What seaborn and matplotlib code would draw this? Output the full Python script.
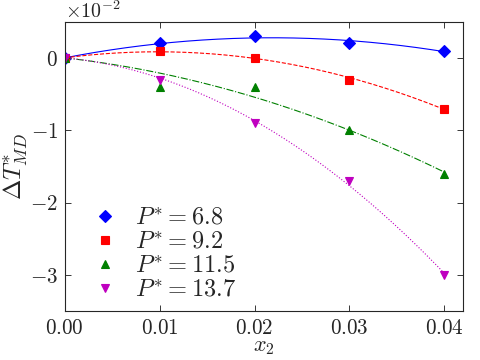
import numpy as np
import pandas as pd
import matplotlib
matplotlib.use('Agg')
import matplotlib.pyplot as plt
import seaborn as sns

# data (y in units of 1e-2)
x2 = [0.00, 0.01, 0.02, 0.03, 0.04]
pressures = ['6.8', '9.2', '11.5', '13.7']
dT_68 = [0.0, 0.2, 0.3, 0.2, 0.1]
dT_92 = [0.0, 0.1, 0.0, -0.3, -0.7]
dT_115 = [0.0, -0.4, -0.4, -1.0, -1.6]
dT_137 = [0.0, -0.3, -0.9, -1.7, -3.0]

series = [dT_68, dT_92, dT_115, dT_137]
colors = ['#0000ff', '#ff0000', '#008000', '#bf00bf']
markers = ['D', 's', '^', 'v']
styles = ['-', '--', '-.', ':']

sns.set_style('ticks')
plt.rcParams['font.family'] = ['cmr10', 'DejaVu Serif']
plt.rcParams['mathtext.fontset'] = 'cm'
plt.rcParams['axes.formatter.use_mathtext'] = True
plt.rcParams['axes.unicode_minus'] = False
plt.rcParams['xtick.direction'] = 'in'
plt.rcParams['ytick.direction'] = 'in'
plt.rcParams['xtick.top'] = True
plt.rcParams['ytick.right'] = True

fig, ax = plt.subplots(figsize=(6, 4.5), dpi=80)

xa = np.array(x2)
xfine = np.linspace(0, 0.04, 200)
for p, y, c, m, ls in zip(pressures, series, colors, markers, styles):
    yv = np.array(y) * 1e-2
    # quadratic fit through the origin
    A = np.column_stack([xa, xa ** 2])
    coef = np.linalg.lstsq(A, yv, rcond=None)[0]
    fit = pd.DataFrame({'x': xfine, 'y': coef[0] * xfine + coef[1] * xfine ** 2})
    sns.lineplot(data=fit, x='x', y='y', color=c, linestyle=ls, lw=1.0, ax=ax)
    ax.plot(x2, yv, linestyle='none', marker=m, color=c, markersize=8,
            markeredgecolor=c, label=r'$P^{*}=' + p + '$')

ax.set_xlim(0, 0.042)
ax.set_ylim(-0.035, 0.005)
ax.set_xticks(x2)
ax.set_yticks([-0.03, -0.02, -0.01, 0.0])
ax.ticklabel_format(axis='y', style='sci', scilimits=(0, 0), useMathText=True)
ax.yaxis.get_offset_text().set_fontsize(18)
ax.tick_params(labelsize=19, length=5, width=0.8, pad=6)
for s in ax.spines.values():
    s.set_linewidth(1.0)
ax.set_xlabel(r'$x_2$', fontsize=20, labelpad=0)
ax.set_ylabel(r'$\Delta T^{*}_{MD}$', fontsize=22, labelpad=0)
ax.legend(loc='lower left', frameon=False, numpoints=1, fontsize=22,
          handlelength=1.0, handletextpad=0.75, labelspacing=0.08,
          borderaxespad=0.0, bbox_to_anchor=(0.045, 0.0))

fig.subplots_adjust(left=0.135, right=0.965, bottom=0.135, top=0.94)
fig.savefig('out.png', dpi=80)
